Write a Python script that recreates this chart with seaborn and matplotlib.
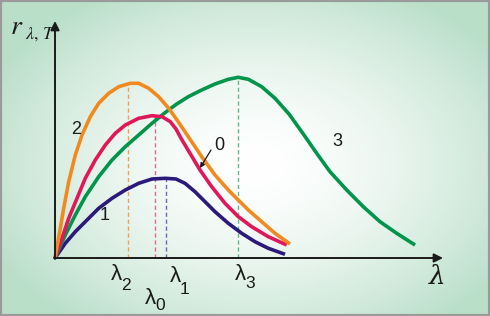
import numpy as np
import pandas as pd
import matplotlib
matplotlib.use("Agg")
import matplotlib.pyplot as plt
import seaborn as sns
from matplotlib.patches import Rectangle

# ---- data (arbitrary units) ----
lam_2 = [0, 5.3, 8.7, 13.7, 20.3, 27, 35.3, 43.7, 53.7, 63.7, 75.3, 83.7, 93.7, 103.7, 113.7,
         122, 133.3, 146.7, 160, 173.3, 183.3, 193.3, 206.7, 220, 235]
r_2 = [0, 29.7, 49.7, 76.3, 103, 123, 141.3, 154.7, 164.7, 171.3, 174.7, 174.7, 169.7, 161.3, 149.7,
       138, 121.3, 101.3, 83, 68, 58, 48, 36.3, 24.7, 14]

lam_0 = [0, 7, 13.7, 22, 30.3, 40.3, 50.3, 60.3, 70.3, 83.7, 97, 107, 115.3, 121, 127,
         135, 145, 156.7, 170, 183.3, 196.7, 213.3, 231.7]
r_0 = [0, 19.7, 39.7, 59.7, 79.7, 98, 113, 124.7, 133, 139.7, 142.3, 141.3, 136.3, 129, 118,
       104.7, 88, 71.3, 54.7, 41.3, 31.3, 21.3, 13]

lam_3 = [0, 10.3, 20.3, 30.3, 43.7, 57, 70.3, 83.7, 97, 109, 121, 133.3, 146.7, 160, 173.3,
         183.3, 193.3, 206.7, 220, 234, 248.3, 261.7, 275, 291.7, 308.3, 325, 341.7, 360]
r_3 = [0, 23, 43, 61.3, 81.3, 98, 111.3, 123, 134.7, 144.5, 153.5, 161.3, 168, 174, 178.7,
       180.7, 178.7, 171.3, 159.7, 144, 124, 104.7, 86.3, 68, 51.3, 36.3, 24.7, 13]

lam_1 = [0, 10.3, 20.3, 30.3, 43.7, 57, 70.3, 83.7, 97, 110.3, 121, 130, 140, 150, 160,
         173.3, 186.7, 200, 213.3, 230]
r_1 = [0, 14.7, 26.3, 36.3, 49.7, 59.7, 68, 74.7, 79, 79.7, 79, 74.7, 66.3, 56.3, 46.3,
       34.7, 24.7, 16.3, 9.7, 3.7]

curve_names = ["2", "0", "3", "1"]
curve_colors = {"2": "#f08a1e", "0": "#e0185a", "3": "#00954a", "1": "#2b1a7c"}
dash_colors = {"2": "#f0a050", "0": "#e06a90", "3": "#60b888", "1": "#6a68b0"}
peak_lam = {"2": 73, "0": 100, "3": 182.5, "1": 111}
peak_tick_labels = {"2": ("λ", "2"), "0": ("λ", "0"), "1": ("λ", "1"), "3": ("λ", "3")}

df = pd.concat([
    pd.DataFrame({"lam": lam_2, "r": r_2, "curve": "2"}),
    pd.DataFrame({"lam": lam_0, "r": r_0, "curve": "0"}),
    pd.DataFrame({"lam": lam_3, "r": r_3, "curve": "3"}),
    pd.DataFrame({"lam": lam_1, "r": r_1, "curve": "1"}),
], ignore_index=True)

# ---- figure ----
fig = plt.figure(figsize=(4.9, 3.16), dpi=100)
ax = fig.add_axes([0, 0, 1, 1])
X0, X1, Y0, Y1 = -55, 435, -58, 258
ax.set_xlim(X0, X1)
ax.set_ylim(Y0, Y1)
ax.axis("off")

# background radial gradient
gx, gy = np.meshgrid(np.linspace(0, 490, 245), np.linspace(0, 316, 158))
d = np.sqrt(((gx - 255) / 290) ** 2 + ((gy - 165) / 200) ** 2)
t = np.clip(d, 0, 1) ** 1.6
c_in = np.array([1.0, 1.0, 1.0])
c_out = np.array([0.73, 0.875, 0.79])
img = c_in[None, None, :] * (1 - t[..., None]) + c_out[None, None, :] * t[..., None]
ax.imshow(img, extent=(X0, X1, Y0, Y1), origin="upper", aspect="auto", zorder=0)

# dashed peak lines
for name in curve_names:
    sub = df[df.curve == name]
    lp = peak_lam[name]
    rp = np.interp(lp, sub.lam, sub.r)
    ax.plot([lp, lp], [0, rp], ls=(0, (3, 2)), lw=1.0, color=dash_colors[name], zorder=1)

# curves
for name in ["1", "3", "0", "2"]:
    sub = df[df.curve == name]
    sns.lineplot(data=sub, x="lam", y="r", sort=False, color=curve_colors[name],
                 lw=2.6, ax=ax, zorder=3, solid_capstyle="butt", solid_joinstyle="round")
ax.set_xlabel("")
ax.set_ylabel("")

# axes with arrows
ax.annotate("", xy=(0, 237), xytext=(0, -1),
            arrowprops=dict(arrowstyle="-|>", lw=1.4, color="#1a1a1a", mutation_scale=13, shrinkA=0, shrinkB=0), zorder=4)
ax.annotate("", xy=(388, 0), xytext=(-1, 0),
            arrowprops=dict(arrowstyle="-|>", lw=1.4, color="#1a1a1a", mutation_scale=13, shrinkA=0, shrinkB=0), zorder=4)

# curve labels
txt = dict(color="#1a1a1a", fontsize=13, family="Liberation Sans", ha="center", va="center")
ax.text(21, 128, "2", **txt)
ax.text(50, 43, "1", **txt)
ax.text(282, 116, "3", **txt)
ax.text(164.5, 112, "0", **txt)
ax.annotate("", xy=(145, 90), xytext=(156, 108),
            arrowprops=dict(arrowstyle="-|>", lw=0.9, color="#1a1a1a", mutation_scale=7, shrinkA=0, shrinkB=0))

# peak tick labels: (x, y of λ, subscript dx, subscript dy)
lab_pos = {"2": (61, -17, 10, -11), "0": (95, -40, 10, -7), "1": (120, -18, 9, -14), "3": (185, -16, 10, -9)}
for name, (lx, ly, sdx, sdy) in lab_pos.items():
    g, s = peak_tick_labels[name]
    ax.text(lx, ly, g, fontsize=16, family="Liberation Sans", color="#1a1a1a", ha="center", va="center")
    ax.text(lx + sdx, ly + sdy, s, fontsize=12.5, family="Liberation Sans", color="#1a1a1a", ha="center", va="center")

# axis titles
ax.text(382, -19, "λ", fontsize=19, family="DejaVu Serif", style="italic", color="#1a1a1a", ha="center", va="center")
plt.rcParams["mathtext.fontset"] = "stix"
ax.text(-45, 232, r"$r$", fontsize=20, color="#1a1a1a", ha="left", va="center")
ax.text(-30, 224, r"$\lambda,\,T$", fontsize=13, color="#1a1a1a", ha="left", va="center")

# border
fig.patches.append(Rectangle((0, 0), 1, 1, transform=fig.transFigure, fill=False,
                             edgecolor="#9a9a9a", lw=3, zorder=10))

fig.savefig("out.png", dpi=100)
